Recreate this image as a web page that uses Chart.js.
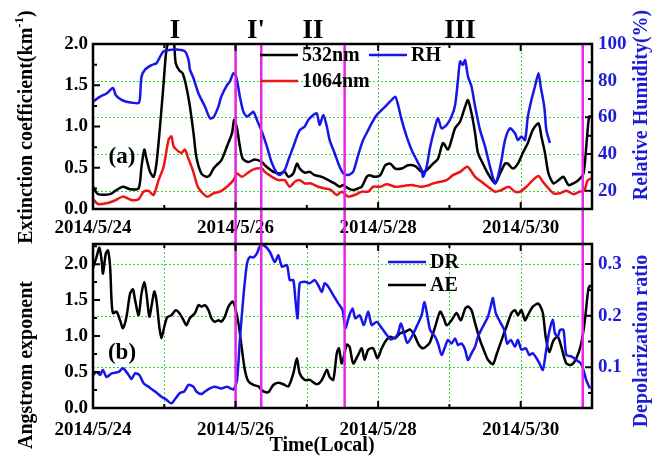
<!DOCTYPE html>
<html><head><meta charset="utf-8">
<script src="https://cdn.jsdelivr.net/npm/chart.js@4/dist/chart.umd.min.js"></script>
<style>
html,body{margin:0;padding:0;background:#fff;}
#wrap{position:relative;width:656px;height:459px;}
#wrap canvas{position:absolute;left:0;top:0;}
</style></head><body>
<div id="wrap"><canvas id="cTop" width="656" height="459"></canvas><canvas id="cBot" width="656" height="459"></canvas></div>
<script>
// ====== Data (x = days after 2014/5/24 00:00) ======
const t532   = [0,0.07,0.24,0.33,0.42,0.52,0.64,0.68,0.72,0.75,0.8,0.85,0.89,0.94,0.99,1.03,1.08,1.13,1.16,1.21,1.26,1.31,1.36,1.41,1.45,1.52,1.59,1.64,1.69,1.73,1.8,1.88,1.95,1.98,2.02,2.06,2.1,2.18,2.27,2.37,2.41,2.53,2.62,2.69,2.74,2.81,2.86,2.9,2.97,3.04,3.11,3.21,3.3,3.39,3.46,3.51,3.58,3.65,3.72,3.77,3.84,3.88,3.95,4.03,4.1,4.17,4.24,4.33,4.42,4.52,4.61,4.68,4.77,4.84,4.91,4.98,5.03,5.08,5.15,5.22,5.26,5.31,5.36,5.4,5.47,5.54,5.64,5.71,5.78,5.82,5.89,5.96,6.03,6.1,6.17,6.25,6.29,6.34,6.39,6.46,6.53,6.6,6.67,6.74,6.81,6.88,6.92,6.96,7];
const ext532 = [0.27,0.18,0.18,0.23,0.27,0.24,0.25,0.51,0.72,0.61,0.45,0.39,0.55,1,1.52,1.93,2.05,2.05,1.77,1.68,1.64,1.48,1.24,0.92,0.63,0.43,0.39,0.41,0.49,0.53,0.59,0.76,0.92,1.08,0.98,0.76,0.61,0.57,0.6,0.57,0.53,0.45,0.43,0.45,0.39,0.43,0.55,0.49,0.44,0.45,0.41,0.39,0.35,0.31,0.27,0.29,0.25,0.23,0.25,0.27,0.39,0.41,0.39,0.41,0.53,0.55,0.49,0.49,0.53,0.52,0.45,0.47,0.55,0.61,0.8,0.72,0.84,0.98,1.06,1.24,1.32,1.16,0.92,0.68,0.55,0.43,0.31,0.43,0.55,0.55,0.49,0.55,0.68,0.8,0.96,1.04,0.88,0.68,0.43,0.31,0.35,0.39,0.29,0.31,0.35,0.43,0.76,1.12,1.12];

const t1064   = [0,0.07,0.19,0.3,0.42,0.54,0.64,0.71,0.78,0.85,0.92,0.99,1.06,1.1,1.13,1.17,1.24,1.29,1.33,1.4,1.47,1.54,1.61,1.69,1.78,1.88,1.97,2.02,2.09,2.16,2.25,2.37,2.41,2.51,2.6,2.69,2.76,2.83,2.9,2.97,3.06,3.16,3.25,3.34,3.42,3.49,3.58,3.67,3.77,3.86,3.93,4.03,4.12,4.24,4.36,4.47,4.59,4.68,4.77,4.87,4.96,5.05,5.15,5.24,5.28,5.36,5.45,5.54,5.64,5.73,5.83,5.92,5.99,6.08,6.17,6.25,6.31,6.39,6.46,6.55,6.64,6.74,6.83,6.89,6.94,6.99];
const ext1064 = [0.12,0.06,0.07,0.1,0.15,0.11,0.12,0.21,0.22,0.17,0.35,0.51,0.84,0.88,0.76,0.72,0.68,0.72,0.63,0.47,0.27,0.19,0.15,0.19,0.21,0.27,0.35,0.43,0.39,0.43,0.48,0.49,0.45,0.39,0.35,0.35,0.27,0.33,0.35,0.31,0.31,0.27,0.25,0.23,0.17,0.21,0.15,0.17,0.21,0.21,0.27,0.27,0.3,0.27,0.28,0.29,0.27,0.28,0.31,0.33,0.35,0.41,0.45,0.51,0.49,0.39,0.33,0.27,0.21,0.23,0.27,0.21,0.21,0.27,0.35,0.4,0.33,0.25,0.19,0.19,0.22,0.18,0.21,0.22,0.35,0.37];

const tRH = [0,0.1,0.19,0.28,0.32,0.4,0.47,0.55,0.64,0.66,0.68,0.73,0.82,0.89,0.94,0.99,1.08,1.17,1.29,1.34,1.36,1.41,1.48,1.57,1.64,1.69,1.76,1.8,1.88,1.92,1.97,2.01,2.06,2.11,2.16,2.2,2.25,2.3,2.37,2.44,2.51,2.58,2.62,2.69,2.74,2.81,2.86,2.9,2.97,3.02,3.09,3.14,3.18,3.23,3.28,3.32,3.39,3.46,3.51,3.58,3.65,3.7,3.74,3.79,3.86,3.91,3.98,4.05,4.12,4.19,4.24,4.28,4.33,4.4,4.47,4.54,4.61,4.63,4.68,4.73,4.8,4.84,4.89,4.96,5.03,5.08,5.12,5.15,5.19,5.22,5.26,5.31,5.36,5.43,5.5,5.57,5.64,5.68,5.73,5.78,5.85,5.92,5.96,6.01,6.06,6.1,6.15,6.2,6.25,6.28,6.33,6.36,6.41];
const rh  = [68.5,71.3,73,76,72,69.5,68.5,68,67.8,71,82,86,88.5,89.5,93,96,96.8,97,96,91.3,86,81.3,73,65.9,59.5,60,66,71.4,77.6,79.5,84,82,71.4,63,60.4,61.5,63,58.5,52,44,35,29.5,28.5,31.3,36.7,44,49.5,53,55,58.6,61.3,62.2,55.8,61.3,55,47.6,40.4,33,29.5,28.5,30.4,36.7,42,47.6,53,56.8,61.3,64,66.7,69.5,71.3,66.7,58.6,49.5,42.2,36.7,31.3,27.6,33,44,55,59.5,54,55.8,60.4,66.7,80.4,90.5,88.6,91.3,82.3,76.8,65.9,53,44,33,24,27.6,36.7,47.6,54,51.3,47.6,49.5,47.6,60.4,69.5,76.8,84,76.8,65.9,53,46];

const tAE = [0,0.05,0.09,0.12,0.14,0.18,0.21,0.24,0.26,0.28,0.33,0.38,0.42,0.47,0.52,0.56,0.59,0.64,0.68,0.72,0.75,0.79,0.82,0.86,0.89,0.93,0.96,1,1.04,1.1,1.16,1.21,1.27,1.31,1.36,1.43,1.48,1.52,1.57,1.62,1.66,1.71,1.76,1.8,1.85,1.9,1.96,1.99,2.04,2.09,2.13,2.18,2.25,2.32,2.39,2.46,2.53,2.6,2.67,2.74,2.81,2.86,2.9,2.97,3.04,3.14,3.21,3.28,3.32,3.37,3.42,3.45,3.49,3.56,3.6,3.65,3.72,3.77,3.81,3.86,3.93,3.99,4.05,4.11,4.17,4.24,4.31,4.38,4.45,4.51,4.57,4.63,4.7,4.73,4.8,4.87,4.92,4.96,5.03,5.1,5.16,5.22,5.26,5.31,5.36,5.43,5.5,5.54,5.61,5.66,5.73,5.8,5.87,5.92,5.96,6.01,6.06,6.1,6.17,6.25,6.31,6.35,6.4,6.46,6.52,6.57,6.64,6.71,6.78,6.85,6.9,6.95,6.98];
const ae  = [1.95,2.1,2.23,2.06,1.87,2.15,2.19,1.96,1.5,1.32,1.34,1.22,1.11,1.27,1.59,1.65,1.5,1.29,1.59,1.75,1.59,1.27,1.41,1.62,1.5,1.13,0.97,1.13,1.26,1.29,1.36,1.32,1.22,1.15,1.25,1.32,1.43,1.41,1.43,1.36,1.25,1.2,1.22,1.2,1.27,1.41,1.48,1.41,1.18,0.81,0.53,0.37,0.32,0.3,0.23,0.22,0.32,0.35,0.33,0.3,0.48,0.69,0.48,0.39,0.39,0.33,0.39,0.53,0.43,0.39,0.76,0.83,0.62,0.88,0.85,0.62,0.74,0.83,0.67,0.81,0.83,0.69,0.83,0.94,0.99,0.97,1.04,1.06,1.09,1.01,0.88,0.83,0.88,0.92,1.13,1.34,1.25,1.15,1.22,1.32,1.22,1.38,1.41,1.36,1.18,0.94,0.76,0.67,0.61,0.74,0.94,1.13,1.32,1.36,1.29,1.36,1.22,1.29,1.41,1.45,1.32,0.99,0.78,0.94,0.99,0.85,0.62,0.6,0.69,0.9,1.22,1.66,1.71];

const tDR = [0,0.05,0.1,0.14,0.19,0.26,0.36,0.42,0.5,0.54,0.59,0.65,0.71,0.78,0.87,0.96,1.03,1.1,1.16,1.22,1.28,1.34,1.41,1.45,1.52,1.57,1.64,1.71,1.8,1.88,1.97,2.02,2.06,2.11,2.16,2.2,2.25,2.3,2.34,2.39,2.48,2.55,2.6,2.65,2.72,2.76,2.81,2.84,2.87,2.9,2.97,3.04,3.11,3.16,3.21,3.25,3.3,3.37,3.44,3.5,3.54,3.59,3.64,3.68,3.74,3.8,3.86,3.91,3.98,4.05,4.12,4.17,4.24,4.28,4.32,4.37,4.41,4.47,4.54,4.61,4.65,4.7,4.73,4.8,4.84,4.89,4.94,4.98,5.03,5.08,5.12,5.17,5.22,5.26,5.31,5.36,5.4,5.47,5.54,5.59,5.61,5.65,5.71,5.77,5.81,5.86,5.92,5.96,6.01,6.07,6.12,6.17,6.25,6.31,6.35,6.4,6.45,6.48,6.52,6.55,6.6,6.64,6.71,6.78,6.84,6.88,6.92,6.97];
const dr  = [0.085,0.091,0.085,0.095,0.081,0.088,0.091,0.098,0.085,0.077,0.088,0.085,0.069,0.062,0.053,0.043,0.037,0.03,0.04,0.05,0.053,0.066,0.062,0.053,0.048,0.053,0.059,0.062,0.059,0.062,0.057,0.075,0.153,0.237,0.301,0.314,0.313,0.321,0.334,0.337,0.324,0.304,0.317,0.295,0.298,0.269,0.269,0.23,0.195,0.263,0.266,0.263,0.269,0.259,0.246,0.263,0.256,0.24,0.224,0.211,0.176,0.198,0.214,0.195,0.201,0.182,0.208,0.182,0.188,0.176,0.163,0.154,0.158,0.166,0.185,0.163,0.147,0.159,0.179,0.201,0.226,0.192,0.172,0.159,0.146,0.124,0.14,0.153,0.146,0.156,0.143,0.146,0.134,0.114,0.127,0.14,0.159,0.179,0.198,0.224,0.234,0.205,0.188,0.172,0.146,0.153,0.14,0.153,0.134,0.137,0.124,0.127,0.111,0.095,0.127,0.169,0.192,0.166,0.159,0.172,0.172,0.124,0.121,0.114,0.108,0.095,0.075,0.059];

const markDays  = [2.0, 2.36, 3.53, 6.87];           // magenta event lines
const xTicks    = [0,1,2,3,4,5,6,7];
const xLabels   = ['2014/5/24','','2014/5/26','','2014/5/28','','2014/5/30',''];
const extTicks  = [0,0.5,1,1.5,2],       extMinor = [0.25,0.75,1.25,1.75];
const rhTicks   = [20,40,60,80,100],     rhMinor  = [30,50,70,90];
const aeTicks   = [0,0.5,1,1.5,2],       aeMinor  = [0.25,0.75,1.25,1.75,2.25];
const drTicks   = [0.1,0.2,0.3],         drMinor  = [0.05,0.15,0.25];
const regions   = ['I',"I'",'II','III'];

// ====== Styles ======
const SERIF = '"Liberation Serif","Times New Roman",serif';
const BLUE = '#1616ea', RED = '#ee1414', MAG = '#e626e6', GRID = '#3ad43a', BLUE_TXT = '#1c1cd8';
const pts = (t,v)=>t.map((x,i)=>({x, y:v[i]}));
const line = (label,t,v,color,axis)=>({label, data:pts(t,v), borderColor:color, borderWidth:2.5, pointRadius:0, tension:0.25, fill:false, yAxisID:axis});
const tickFont = {family:SERIF, weight:'bold', size:19};

function drawParts(ctx, parts, cx, cy, color, rot){
  ctx.save(); ctx.translate(cx, cy); if(rot) ctx.rotate(-Math.PI/2);
  ctx.fillStyle = color; ctx.textBaseline = 'middle'; ctx.textAlign = 'left';
  let w = 0; parts.forEach(p=>{ ctx.font = p[1]; w += ctx.measureText(p[0]).width; });
  let x = -w/2;
  parts.forEach(p=>{ ctx.font = p[1]; ctx.fillText(p[0], x, p[2]||0); x += ctx.measureText(p[0]).width; });
  ctx.restore();
}

// frame, inward ticks, dotted grid, event lines, legend and free text
const frame = {
  id:'frame',
  beforeDatasetsDraw(chart, args, o){
    const {ctx, chartArea:a, scales:{x, y2}} = chart;
    ctx.save(); ctx.strokeStyle = GRID; ctx.lineWidth = 1; ctx.setLineDash([2,2]); ctx.beginPath();
    o.gridX.forEach(v=>{ const p = Math.round(x.getPixelForValue(v))+0.5; ctx.moveTo(p,a.top); ctx.lineTo(p,a.bottom); });
    o.gridY.forEach(v=>{ const p = Math.round(y2.getPixelForValue(v))+0.5; ctx.moveTo(a.left,p); ctx.lineTo(a.right,p); });
    ctx.stroke(); ctx.restore();
  },
  afterDatasetsDraw(chart, args, o){
    const {ctx, chartArea:a, scales:{x, y, y2}} = chart;
    ctx.save();
    // event lines
    ctx.strokeStyle = MAG; ctx.lineWidth = 2.5; ctx.beginPath();
    markDays.forEach(d=>{ const p = x.getPixelForValue(d); ctx.moveTo(p, a.top); ctx.lineTo(p, a.bottom + o.extend); });
    ctx.stroke();
    // box + ticks
    ctx.strokeStyle = '#000'; ctx.lineWidth = 2.5; ctx.strokeRect(a.left, a.top, a.right-a.left, a.bottom-a.top);
    ctx.lineWidth = 2; ctx.beginPath();
    const tx = (v,l)=>{ const p = x.getPixelForValue(v); ctx.moveTo(p,a.bottom); ctx.lineTo(p,a.bottom-l); ctx.moveTo(p,a.top); ctx.lineTo(p,a.top+l); };
    const tl = (v,l)=>{ const p = y.getPixelForValue(v); ctx.moveTo(a.left,p); ctx.lineTo(a.left+l,p); };
    const tr = (v,l)=>{ const p = y2.getPixelForValue(v); ctx.moveTo(a.right,p); ctx.lineTo(a.right-l,p); };
    xTicks.forEach((v,i)=>tx(v, xLabels[i] ? 7 : 4));
    o.yMajor.forEach(v=>tl(v,7)); o.yMinor.forEach(v=>tl(v,4));
    o.y2Major.forEach(v=>tr(v,7)); o.y2Minor.forEach(v=>tr(v,4));
    ctx.stroke();
    // legend
    o.legend.forEach(([i, lx, ly])=>{
      const ds = chart.data.datasets[i];
      ctx.strokeStyle = ds.borderColor; ctx.lineWidth = 2.5; ctx.beginPath(); ctx.moveTo(lx,ly); ctx.lineTo(lx+38,ly); ctx.stroke();
      ctx.fillStyle = '#000'; ctx.font = 'bold 20px '+SERIF; ctx.textBaseline = 'middle'; ctx.fillText(ds.label, lx+42, ly+1);
    });
    ctx.restore();
    o.texts.forEach(t=>drawParts(ctx, t.parts, t.x, t.y, t.color||'#000', t.rot));
  }
};

const axX = pad => ({type:'linear', min:0, max:7,
  afterBuildTicks:s=>{ s.ticks = xTicks.map(v=>({value:v})); },
  afterFit:s=>{ s.height = pad.h; },
  grid:{display:false, drawTicks:false}, border:{display:false},
  ticks:{font:tickFont, color:'#000', padding:pad.p, autoSkip:false, maxRotation:0, callback:(v,i)=>xLabels[i]}});
const axY = (min,max,ticks,pos,color,dec) => ({type:'linear', position:pos, min, max,
  afterBuildTicks:s=>{ s.ticks = ticks.map(v=>({value:v})); },
  afterFit:s=>{ s.width = pos==='left' ? 93 : 64; },
  grid:{display:false, drawTicks:false}, border:{display:false},
  ticks:{font:tickFont, color, padding:pos==='left'?5:6, autoSkip:false, callback:v=>v.toFixed(dec)}});

const T20 = 'bold 20px '+SERIF, TSUP = 'bold 13px '+SERIF, TREG = 'bold 27px '+SERIF;

// ====== Panel (a) ======
new Chart(document.getElementById('cTop'), {
  type:'line',
  data:{datasets:[
    line('RH', tRH, rh, BLUE, 'y2'),
    line('532nm', t532, ext532, '#000', 'y'),
    line('1064nm', t1064, ext1064, RED, 'y')
  ]},
  options:{responsive:false, animation:false, events:[],
    layout:{padding:{top:44, bottom:220, left:0, right:0}},
    scales:{x:axX({h:30,p:8}), y:axY(0,2,extTicks,'left','#000',1), y2:axY(10,100,rhTicks,'right',BLUE_TXT,0)},
    plugins:{legend:{display:false}, tooltip:{enabled:false},
      frame:{gridX:[2,4,6], gridY:[20,40,60,80], yMajor:extTicks, yMinor:extMinor, y2Major:rhTicks, y2Minor:rhMinor, extend:35,
        legend:[[1,260,55],[0,369,55],[2,260,81]],
        texts:[
          {parts:[['Extinction coefficient(km',T20],['-1',TSUP,-7],[')',T20]], x:27, y:127, rot:true},
          {parts:[['Relative Humidity(%)',T20]], x:642, y:105, rot:true, color:BLUE_TXT},
          {parts:[[regions[0],TREG]], x:175, y:31},
          {parts:[[regions[1],TREG]], x:256, y:31},
          {parts:[[regions[2],TREG]], x:313, y:31},
          {parts:[[regions[3],TREG]], x:460, y:31},
          {parts:[['(a)','bold 23px '+SERIF]], x:122, y:157}
        ]}}
  },
  plugins:[frame]
});

// ====== Panel (b) ======
new Chart(document.getElementById('cBot'), {
  type:'line',
  data:{datasets:[
    line('DR', tDR, dr, BLUE, 'y2'),
    line('AE', tAE, ae, '#000', 'y')
  ]},
  options:{responsive:false, animation:false, events:[],
    layout:{padding:{top:244, bottom:0, left:0, right:0}},
    scales:{x:axX({h:51,p:11}), y:axY(0,2.28,aeTicks,'left','#000',1), y2:axY(0.021,0.339,drTicks,'right',BLUE_TXT,1)},
    plugins:{legend:{display:false}, tooltip:{enabled:false},
      frame:{gridX:[1,2,3,4,5,6], gridY:[0.1,0.2,0.3], yMajor:aeTicks, yMinor:aeMinor, y2Major:drTicks, y2Minor:drMinor, extend:0,
        legend:[[0,388,262],[1,388,285]],
        texts:[
          {parts:[['Angstrom exponent',T20]], x:27, y:365, rot:true},
          {parts:[['Depolarization ratio',T20]], x:642, y:341, rot:true, color:BLUE_TXT},
          {parts:[['Time(Local)',T20]], x:322, y:446},
          {parts:[['(b)','bold 23px '+SERIF]], x:122, y:353}
        ]}}
  },
  plugins:[frame]
});
</script>
</body></html>
